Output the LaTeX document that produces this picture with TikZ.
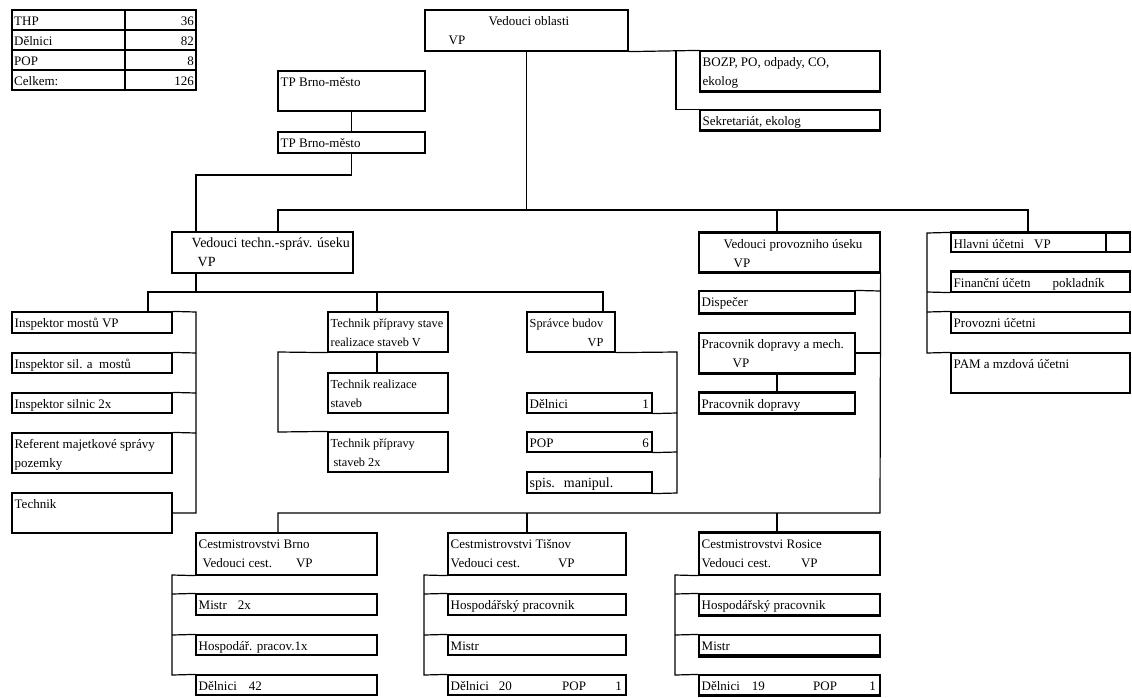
\documentclass[tikz,border=0pt]{standalone}
\usepackage{fontspec}
\setmainfont{Liberation Serif}
\usetikzlibrary{fit}
\tikzset{
  x=1pt, y=-1pt,
  box/.style={draw, line width=1.2pt, inner sep=0pt},
  ln/.style={line width=1.2pt},
  thk/.style={line width=2.8pt},
  txt/.style={anchor=north west, inner sep=0pt, align=left, font=\fontsize{13}{19.5}\selectfont},
  txs/.style={txt, font=\fontsize{12.3}{19.5}\selectfont},
  txw/.style={txt, font=\fontsize{14}{19.5}\selectfont},
  txr/.style={anchor=north east, inner sep=0pt, font=\fontsize{13}{19.5}\selectfont},
  txl/.style={anchor=north west, inner sep=0pt, font=\fontsize{13}{19.5}\selectfont},
}
\newcommand{\st}{\rule{0pt}{12pt}}
\newcommand{\bx}[7][txt]{%
  \node[box, fit={(#3,#4) (#5,#6)}] (#2) {};
  \node[#1] (#2t) at (#3+2.5,#4+3) {\st#7};}
\begin{document}
\begin{tikzpicture}
\useasboundingbox (0,0) rectangle (1132,697);
% ---------- table ----------
\node[box, fit={(12,10) (125,30)}] (ta1) {};
\node[box, fit={(125,10) (196,30)}] (tb1) {};
\node[box, fit={(12,30) (125,50)}] (ta2) {};
\node[box, fit={(125,30) (196,50)}] (tb2) {};
\node[box, fit={(12,50) (125,70)}] (ta3) {};
\node[box, fit={(125,50) (196,70)}] (tb3) {};
\node[box, fit={(12,70) (125,90)}] (ta4) {};
\node[box, fit={(125,70) (196,90)}] (tb4) {};
\node[txl] (ta1t) at (14,13) {\st THP};
\node[txl] (ta2t) at (14,33) {\st Dělnici};
\node[txl] (ta3t) at (14,53) {\st POP};
\node[txl] (ta4t) at (14,73) {\st Celkem:};
\node[txr] (tb1t) at (194,13) {\st 36};
\node[txr] (tb2t) at (194,33) {\st 82};
\node[txr] (tb3t) at (194,53) {\st 8};
\node[txr] (tb4t) at (194,73) {\st 126};
% ---------- top ----------
\bx{obl}{425}{10}{628}{51}{\hspace*{61pt}Vedouci oblasti\\\hspace*{21pt}VP}
\bx{tpa}{278}{71}{425}{111}{TP Brno-město}
\bx{tpb}{278}{132}{425}{153}{TP Brno-město}
\bx{bozp}{700}{51}{880}{91}{BOZP, PO, odpady, CO,\\ekolog}
\bx{sekr}{700}{110}{880}{130}{Sekretariát, ekolog}
\draw[thk] (bozp.south west) -- (bozp.south east);
\draw[thk] (sekr.south west) -- (sekr.south east);
% ---------- second level ----------
\bx[txw]{tech}{172}{232}{353}{273}{\hspace*{17pt}Vedouci techn.-správ. úseku\\\hspace*{23pt}VP}
\bx{prov}{699}{233}{880}{272}{\hspace*{22pt}Vedouci provozniho úseku\\\hspace*{32pt}VP}
\draw[thk] (prov.north west) -- (prov.north east);
\draw[thk] (prov.south west) -- (prov.south east);
\bx{hlav}{951}{233}{1130}{252}{Hlavni účetni\hspace*{10pt}VP}
\draw[ln] (hlav.north west -| 1106,0) -- (hlav.south west -| 1106,0);
\draw[thk] (hlav.north west) -- (hlav.north east);
\bx{fin}{951}{272}{1130}{292}{Finanční účetn\hspace*{22pt}pokladník}
\draw[thk] (fin.north west) -- (fin.north east);
\bx{provu}{951}{312}{1130}{333}{Provozni účetni}
\bx{pam}{951}{353}{1130}{393}{PAM a mzdová účetni}
% ---------- left column ----------
\bx{insm}{12}{312}{172}{333}{Inspektor mostů VP}
\bx{inss}{12}{353}{172}{373}{Inspektor sil. a\ \ mostů}
\bx{inssil}{12}{393}{172}{413}{Inspektor silnic 2x}
\bx{ref}{12}{433}{172}{473}{Referent majetkové správy\\pozemky}
\bx{techn}{12}{493}{172}{533}{Technik}
% ---------- middle column ----------
\bx[txs]{tps}{328}{312}{448}{352}{Technik přípravy stave\\realizace staveb V}
\bx[txs]{tr}{328}{373}{448}{413}{Technik realizace\\staveb}
\bx[txs]{tpx}{328}{432}{448}{472}{Technik přípravy\\\hspace*{3pt}staveb 2x}
\bx[txs]{spr}{527}{312}{615}{352}{Správce budov\\\hspace*{58pt}VP}
\bx{del1}{527}{393}{652}{413}{Dělnici}
\node[txr] (del1n) at (649,396) {\st 1};
\bx{pop6}{527}{432}{652}{452}{POP}
\node[txr] (pop6n) at (649,435) {\st 6};
\bx[txw]{spis}{527}{472}{652}{493}{spis.\hspace*{9pt}manipul.}
% ---------- right column ----------
\bx{disp}{699}{291}{855}{313}{Dispečer}
\draw[thk] (disp.south west) -- (disp.south east);
\bx{pdm}{699}{333}{855}{373}{Pracovnik dopravy a mech.\\\hspace*{31pt}VP}
\draw[thk] (pdm.south west) -- (pdm.south east);
\bx{pd}{699}{393}{855}{413}{Pracovnik dopravy}
\draw[thk] (pd.north west) -- (pd.north east);
\draw[thk] (pd.south west) -- (pd.south east);
% ---------- bottom ----------
\bx{brno}{196}{533}{377}{575}{Cestmistrovstvi Brno\\\hspace*{4pt}Vedouci cest.\hspace*{24pt}VP}
\bx{mia}{196}{594}{377}{615}{Mistr\hspace*{11pt}2x}
\bx{hoa}{196}{635}{377}{655}{Hospodář. pracov.1x}
\bx{dea}{196}{675}{377}{695}{Dělnici\hspace*{12pt}42}
\bx{tis}{448}{533}{626}{575}{Cestmistrovstvi Tišnov\\Vedouci cest.\hspace*{38pt}VP}
\bx{hob}{448}{594}{626}{615}{Hospodářský pracovnik}
\bx{mib}{448}{635}{626}{655}{Mistr}
\bx{deb}{448}{675}{626}{695}{Dělnici\hspace*{10pt}20}
\node[txl] (debp) at (562,678) {\st POP};
\node[txr] (debn) at (622,678) {\st 1};
\bx{ros}{699}{533}{880}{575}{Cestmistrovstvi Rosice\\Vedouci cest.\hspace*{30pt}VP}
\draw[thk] (ros.north west) -- (ros.north east);
\bx{hoc}{699}{594}{880}{615}{Hospodářský pracovnik}
\draw[thk] (hoc.south west) -- (hoc.south east);
\bx{mic}{699}{635}{880}{655}{Mistr}
\draw[line width=4pt] (mic.south west) -- (mic.south east);
\bx{dec}{699}{675}{880}{695}{Dělnici\hspace*{12pt}19}
\node[txl] (decp) at (813,678) {\st POP};
\node[txr] (decn) at (876,678) {\st 1};
\draw[thk] (dec.south west) -- (dec.south east);
% ---------- connectors ----------
\draw[ln] (obl.south) -- (obl.south |- 0,210);
\draw[ln] (tech.north -| 278,0) -- (278,210) -- (1028,210) -- (hlav.north -| 1028,0);
\draw[ln] (prov.north -| 777,0) -- (777,210);
\draw[ln] (obl.south east) -- (bozp.north west);
\draw[ln] (bozp.north west -| 676,0) |- (sekr.north west);
\draw[ln] (tpa.south) -- (tpb.north);
\draw[ln] (tpb.south) |- (196,175) -- (tech.north -| 196,0);
\draw[ln] (tech.south -| 196,0) -- (196,292);
\draw[ln] (insm.north -| 148,0) -- (148,292) -- (603,292) -- (spr.north -| 603,0);
\draw[ln] (tps.north -| 377,0) -- (377,292);
\draw[ln] (insm.north east) -- (196,312) -- (196,513) -- (techn.east);
\draw[ln] (inss.north east) -- (196,353);
\draw[ln] (inssil.north east) -- (196,393);
\draw[ln] (ref.north east) -- (196,433);
\draw[ln] (tps.south -| 377,0) -- (tr.north -| 377,0);
\draw[ln] (tps.south west) -- (278,352) -- (278,432) -- (tpx.north west);
\draw[ln] (spr.south east) -- (677,352) -- (677,493) -- (spis.south east);
\draw[ln] (del1.south east) -- (677,413);
\draw[ln] (pop6.south east) -- (677,452);
\draw[ln] (disp.north east) -- (880,291);
\draw[ln] (pdm.east) -- (880,353);
\draw[ln] (pdm.south -| 777,0) -- (pd.north -| 777,0);
\draw[ln] (prov.south east) -- (880,513) -- (278,513) -- (brno.north -| 278,0);
\draw[ln] (527,513) -- (tis.north -| 527,0);
\draw[ln] (777,513) -- (ros.north -| 777,0);
\draw[ln] (hlav.north west) -- (927,233) -- (927,353) -- (pam.north west);
\draw[ln] (fin.south west) -- (927,292);
\draw[ln] (provu.north west) -- (927,312);
\draw[ln] (brno.south west) -- (172,575) -- (172,675) -- (dea.north west);
\draw[ln] (mia.north west) -- (172,594);
\draw[ln] (hoa.north west) -- (172,635);
\draw[ln] (tis.south west) -- (424,575) -- (424,675) -- (deb.north west);
\draw[ln] (hob.north west) -- (424,594);
\draw[ln] (mib.north west) -- (424,635);
\draw[ln] (ros.south west) -- (675,575) -- (675,675) -- (dec.north west);
\draw[ln] (hoc.north west) -- (675,594);
\draw[ln] (mic.north west) -- (675,635);
\end{tikzpicture}
\end{document}
